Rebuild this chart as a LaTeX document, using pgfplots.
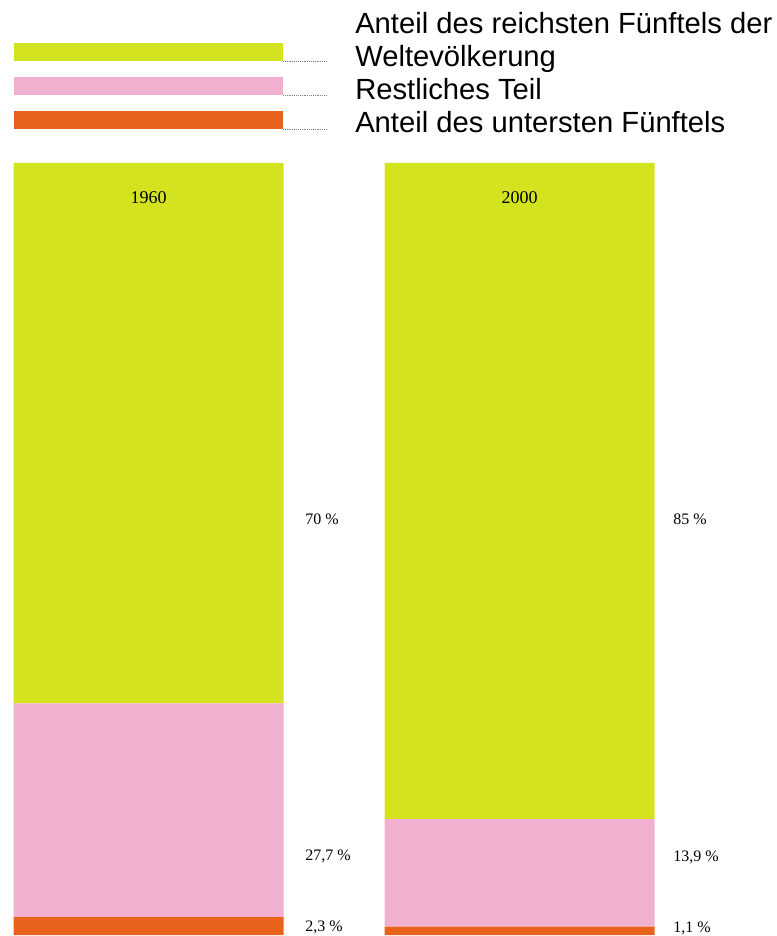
\documentclass[border=0pt]{standalone}
\usepackage{pgfplots}
\pgfplotsset{compat=1.18}
\usepackage{fontspec}
\setmainfont{Liberation Serif}
\newfontfamily\arial{Liberation Sans}
\definecolor{ggreen}{RGB}{212,227,32}
\definecolor{ppink}{RGB}{241,176,208}
\definecolor{oorange}{RGB}{232,98,28}

\begin{document}
\begin{tikzpicture}
\useasboundingbox (0,0) rectangle (582.75pt,702pt);
% legend, in pixel coordinates of the reference (y down)
\begin{scope}[shift={(0,702pt)},x=0.75pt,y=-0.75pt]
  \fill[ggreen]  (14,43)  rectangle (283,61);
  \fill[ppink]   (14,77)  rectangle (283,95);
  \fill[oorange] (14,111) rectangle (283,129);
  \foreach \yy in {61,95,129}
    \draw[gray,densely dotted,line width=0.4pt] (283,\yy) -- (327,\yy);
  \begin{scope}[every node/.style={anchor=base west,inner sep=0pt,font=\arial\fontsize{21.9}{24}\selectfont}]
    \node at (355,34)  {Anteil des reichsten Fünftels der};
    \node at (355,67)  {Weltevölkerung};
    \node at (355,100)  {Restliches Teil};
    \node at (355,133) {Anteil des untersten Fünftels};
  \end{scope}
\end{scope}
\begin{axis}[
  at={(0,0.75pt)}, anchor=south west,
  scale only axis, width=582.75pt, height=579pt,
  xmin=0, xmax=777, ymin=0, ymax=100,
  hide axis, clip=false,
  ybar stacked, bar width=270,
  ]
  % Anteil des untersten Fuenftels
  \addplot[draw=none,fill=oorange] coordinates {(148.5,2.3) (519.5,1.1)};
  % Restliches Teil
  \addplot[draw=none,fill=ppink] coordinates {(148.5,27.7) (519.5,13.9)};
  % Anteil des reichsten Fuenftels
  \addplot[draw=none,fill=ggreen] coordinates {(148.5,70) (519.5,85)};

  \coordinate (y1) at (axis cs:148.5,95.5);
  \coordinate (y2) at (axis cs:519.5,95.5);
  \coordinate (a1) at (axis cs:305,53.8);
  \coordinate (a2) at (axis cs:305,10.2);
  \coordinate (a3) at (axis cs:305,1.0);
  \coordinate (b1) at (axis cs:673,53.8);
  \coordinate (b2) at (axis cs:673,10.1);
  \coordinate (b3) at (axis cs:673,0.8);
\end{axis}
\begin{scope}[every node/.style={font=\fontsize{12}{14}\selectfont,inner sep=0pt}]
  \node[font=\fontsize{13.5}{15}\selectfont] at (y1) {1960};
  \node[font=\fontsize{13.5}{15}\selectfont] at (y2) {2000};
  \node[anchor=west] at (a1) {70 \%};
  \node[anchor=west] at (a2) {27,7 \%};
  \node[anchor=west] at (a3) {2,3 \%};
  \node[anchor=west] at (b1) {85 \%};
  \node[anchor=west] at (b2) {13,9 \%};
  \node[anchor=west] at (b3) {1,1 \%};
\end{scope}
\end{tikzpicture}
\end{document}
